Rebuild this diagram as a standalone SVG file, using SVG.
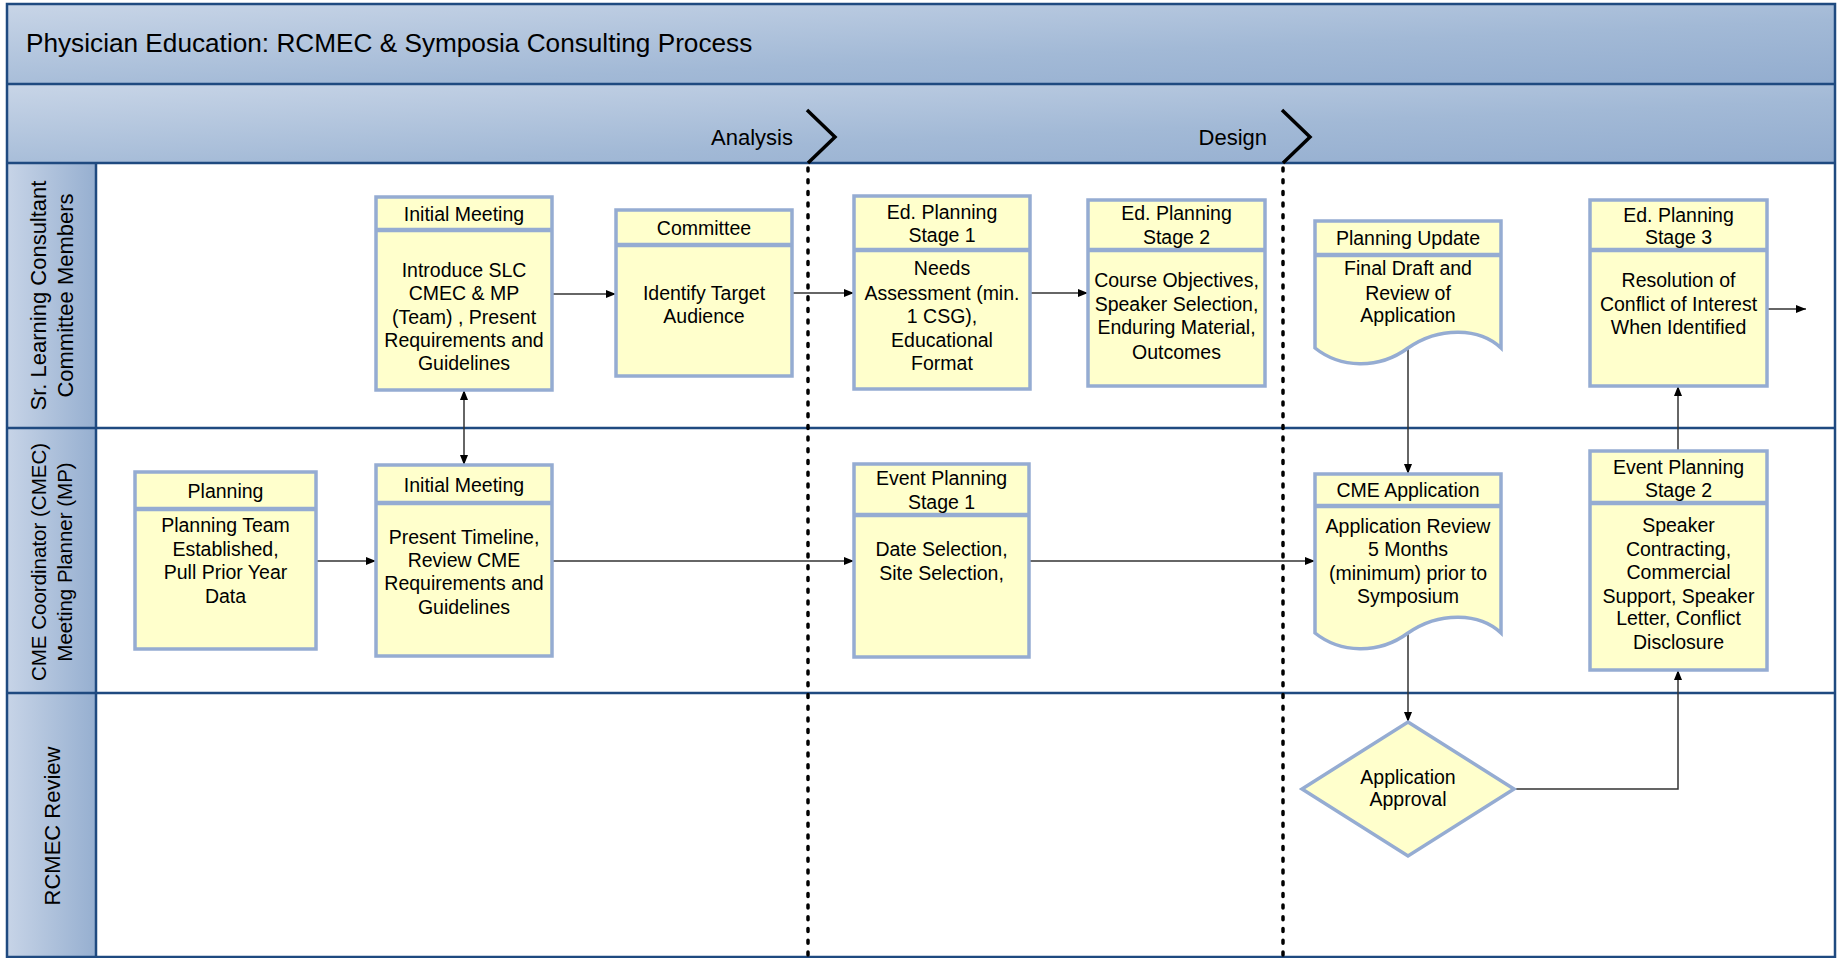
<svg xmlns="http://www.w3.org/2000/svg" width="1837" height="958" viewBox="0 0 1837 958">
<defs>
<linearGradient id="gTitle" x1="0" y1="0" x2="1" y2="1">
<stop offset="0" stop-color="#c8d5e7"/>
<stop offset="0.6" stop-color="#a2b9d6"/>
<stop offset="1" stop-color="#93adcf"/>
</linearGradient>
<linearGradient id="gLane" x1="0" y1="0" x2="1" y2="0">
<stop offset="0" stop-color="#c7d4e7"/>
<stop offset="1" stop-color="#96afd0"/>
</linearGradient>
<marker id="ah" viewBox="0 0 10 10" refX="10" refY="5" markerWidth="10" markerHeight="10" markerUnits="userSpaceOnUse" orient="auto-start-reverse">
<path d="M0,1 L10,5 L0,9 Z" fill="#000"/>
</marker>
<style>
.t{font-family:"Liberation Sans",Arial,sans-serif;fill:#000}
.n{font-size:19.5px;text-anchor:middle}
.box{fill:#ffffcc;stroke:#95acd2;stroke-width:3.5}
.div{stroke:#95acd2;stroke-width:4.5}
.frame{fill:none;stroke:#1f4a80;stroke-width:2.5}
.conn{fill:none;stroke:#333;stroke-width:1.5;marker-end:url(#ah)}
.phase{fill:none;stroke:#000;stroke-width:3.5;stroke-linejoin:miter}
.dash{stroke:#000;stroke-width:3.5;stroke-dasharray:3 8.7;stroke-linecap:round}
.ln{font-size:22px;text-anchor:middle}
.ln2{font-size:20.5px;text-anchor:middle}
</style>
</defs>

<g id="background">
<rect x="7" y="4" width="1828" height="953" fill="#ffffff"/>
<rect x="7" y="4" width="1828" height="80" fill="url(#gTitle)"/>
<rect x="7" y="84" width="1828" height="79" fill="url(#gTitle)"/>
<rect x="7" y="163" width="89" height="794" fill="url(#gLane)"/>
</g>

<g id="frame">
<rect class="frame" x="7" y="4" width="1828" height="953"/>
<line class="frame" x1="7" y1="84" x2="1835" y2="84"/>
<line class="frame" x1="7" y1="163" x2="1835" y2="163"/>
<line class="frame" x1="7" y1="428" x2="1835" y2="428"/>
<line class="frame" x1="7" y1="693" x2="1835" y2="693"/>
<line class="frame" x1="96" y1="163" x2="96" y2="957"/>
</g>

<g id="title">
<text class="t" x="26" y="52" font-size="26.2">Physician Education: RCMEC &amp; Symposia Consulting Process</text>
</g>

<g id="phases">
<text class="t" x="793" y="145" font-size="22" text-anchor="end">Analysis</text>
<polyline class="phase" points="807,110 835,137 808,163"/>
<line class="dash" x1="808" y1="168" x2="808" y2="957"/>
<text class="t" x="1267" y="145" font-size="22" text-anchor="end">Design</text>
<polyline class="phase" points="1282,110 1310,137 1283,163"/>
<line class="dash" x1="1283" y1="168" x2="1283" y2="957"/>
</g>

<g id="lane-labels">
<text class="t ln" transform="translate(46,295.5) rotate(-90)">Sr. Learning Consultant</text>
<text class="t ln" transform="translate(72.5,295.5) rotate(-90)">Committee Members</text>
<text class="t ln2" transform="translate(46,562) rotate(-90)">CME Coordinator (CMEC)</text>
<text class="t ln2" transform="translate(72,562) rotate(-90)">Meeting Planner (MP)</text>
<text class="t ln" transform="translate(59.5,826) rotate(-90)">RCMEC Review</text>
</g>

<g id="connectors">
<path class="conn" d="M552,294 H616"/>
<path class="conn" d="M792,293 H854"/>
<path class="conn" d="M1030,293 H1088"/>
<path class="conn" d="M1767,309 H1806"/>
<path class="conn" d="M464,390 V465" marker-start="url(#ah)"/>
<path class="conn" d="M316,561 H376"/>
<path class="conn" d="M552,561 H854"/>
<path class="conn" d="M1029,561 H1315"/>
<path class="conn" d="M1408,348 V474"/>
<path class="conn" d="M1408,631 V722"/>
<path class="conn" d="M1514,789 H1678 V670"/>
<path class="conn" d="M1678,451 V386"/>
</g>

<g id="n-initial-meeting-1">
<rect class="box" x="376" y="197" width="176" height="193"/>
<line class="div" x1="376" y1="230" x2="552" y2="230"/>
<text class="t n" x="464" y="221">Initial Meeting</text>
<text class="t n" x="464" y="277">Introduce SLC</text>
<text class="t n" x="464" y="300">CMEC &amp; MP</text>
<text class="t n" x="464" y="324">(Team) , Present</text>
<text class="t n" x="464" y="347">Requirements and</text>
<text class="t n" x="464" y="370">Guidelines</text>
</g>

<g id="n-committee">
<rect class="box" x="616" y="210" width="176" height="166"/>
<line class="div" x1="616" y1="245" x2="792" y2="245"/>
<text class="t n" x="704" y="235">Committee</text>
<text class="t n" x="704" y="300">Identify Target</text>
<text class="t n" x="704" y="323">Audience</text>
</g>

<g id="n-ed-stage-1">
<rect class="box" x="854" y="196" width="176" height="193"/>
<line class="div" x1="854" y1="250" x2="1030" y2="250"/>
<text class="t n" x="942" y="219">Ed. Planning</text>
<text class="t n" x="942" y="242">Stage 1</text>
<text class="t n" x="942" y="275">Needs</text>
<text class="t n" x="942" y="300">Assessment (min.</text>
<text class="t n" x="942" y="323">1 CSG),</text>
<text class="t n" x="942" y="347">Educational</text>
<text class="t n" x="942" y="370">Format</text>
</g>

<g id="n-ed-stage-2">
<rect class="box" x="1088" y="200" width="177" height="186"/>
<line class="div" x1="1088" y1="250" x2="1265" y2="250"/>
<text class="t n" x="1176.5" y="220">Ed. Planning</text>
<text class="t n" x="1176.5" y="244">Stage 2</text>
<text class="t n" x="1176.5" y="287">Course Objectives,</text>
<text class="t n" x="1176.5" y="311">Speaker Selection,</text>
<text class="t n" x="1176.5" y="334">Enduring Material,</text>
<text class="t n" x="1176.5" y="359">Outcomes</text>
</g>

<g id="n-planning-update">
<path class="box" d="M1315,221 H1501 V348 C1480,328 1440,326 1408,348 C1378,370 1340,368 1315,348 Z"/>
<line class="div" x1="1315" y1="255" x2="1501" y2="255"/>
<text class="t n" x="1408" y="245">Planning Update</text>
<text class="t n" x="1408" y="275">Final Draft and</text>
<text class="t n" x="1408" y="300">Review of</text>
<text class="t n" x="1408" y="322">Application</text>
</g>

<g id="n-ed-stage-3">
<rect class="box" x="1590" y="200" width="177" height="186"/>
<line class="div" x1="1590" y1="250" x2="1767" y2="250"/>
<text class="t n" x="1678.5" y="222">Ed. Planning</text>
<text class="t n" x="1678.5" y="244">Stage 3</text>
<text class="t n" x="1678.5" y="287">Resolution of</text>
<text class="t n" x="1678.5" y="311">Conflict of Interest</text>
<text class="t n" x="1678.5" y="334">When Identified</text>
</g>

<g id="n-planning">
<rect class="box" x="135" y="472" width="181" height="177"/>
<line class="div" x1="135" y1="509" x2="316" y2="509"/>
<text class="t n" x="225.5" y="498">Planning</text>
<text class="t n" x="225.5" y="532">Planning Team</text>
<text class="t n" x="225.5" y="556">Established,</text>
<text class="t n" x="225.5" y="579">Pull Prior Year</text>
<text class="t n" x="225.5" y="603">Data</text>
</g>

<g id="n-initial-meeting-2">
<rect class="box" x="376" y="465" width="176" height="191"/>
<line class="div" x1="376" y1="503" x2="552" y2="503"/>
<text class="t n" x="464" y="492">Initial Meeting</text>
<text class="t n" x="464" y="544">Present Timeline,</text>
<text class="t n" x="464" y="567">Review CME</text>
<text class="t n" x="464" y="590">Requirements and</text>
<text class="t n" x="464" y="614">Guidelines</text>
</g>

<g id="n-event-stage-1">
<rect class="box" x="854" y="464" width="175" height="193"/>
<line class="div" x1="854" y1="515" x2="1029" y2="515"/>
<text class="t n" x="941.5" y="485">Event Planning</text>
<text class="t n" x="941.5" y="509">Stage 1</text>
<text class="t n" x="941.5" y="556">Date Selection,</text>
<text class="t n" x="941.5" y="580">Site Selection,</text>
</g>

<g id="n-cme-application">
<path class="box" d="M1315,474 H1501 V633 C1480,613 1440,611 1408,633 C1378,655 1340,653 1315,633 Z"/>
<line class="div" x1="1315" y1="506" x2="1501" y2="506"/>
<text class="t n" x="1408" y="497">CME Application</text>
<text class="t n" x="1408" y="533">Application Review</text>
<text class="t n" x="1408" y="556">5 Months</text>
<text class="t n" x="1408" y="580">(minimum) prior to</text>
<text class="t n" x="1408" y="603">Symposium</text>
</g>

<g id="n-event-stage-2">
<rect class="box" x="1590" y="451" width="177" height="219"/>
<line class="div" x1="1590" y1="503" x2="1767" y2="503"/>
<text class="t n" x="1678.5" y="474">Event Planning</text>
<text class="t n" x="1678.5" y="497">Stage 2</text>
<text class="t n" x="1678.5" y="532">Speaker</text>
<text class="t n" x="1678.5" y="556">Contracting,</text>
<text class="t n" x="1678.5" y="579">Commercial</text>
<text class="t n" x="1678.5" y="603">Support, Speaker</text>
<text class="t n" x="1678.5" y="625">Letter, Conflict</text>
<text class="t n" x="1678.5" y="649">Disclosure</text>
</g>

<g id="n-application-approval">
<polygon class="box" points="1408,722 1514,789 1408,856 1302,789"/>
<text class="t n" x="1408" y="784">Application</text>
<text class="t n" x="1408" y="806">Approval</text>
</g>
</svg>
